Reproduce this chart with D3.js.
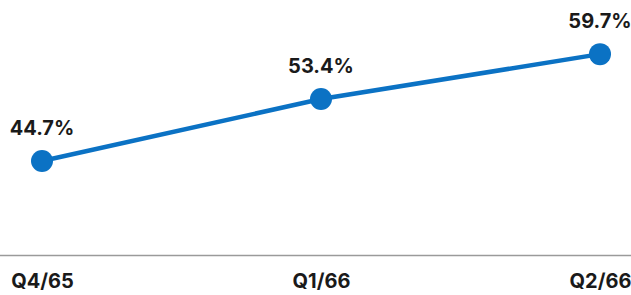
<!DOCTYPE html>
<html>
<head>
<meta charset="utf-8">
<script src="https://cdn.jsdelivr.net/npm/d3@7"></script>
<style>
  body { margin: 0; background: #fff; }
  text { font-family: Inter, "Open Sans", sans-serif; font-weight: 700; fill: #1a1a1a; }
</style>
</head>
<body>
<div class="container"></div>
<script>
var quarters = ["Q4/65", "Q1/66", "Q2/66"];
var ratios = [44.7, 53.4, 59.7];

var width = 631, height = 295;
var svg = d3.select(".container").append("svg")
  .attr("width", width)
  .attr("height", height);

var x = d3.scalePoint().domain(quarters).range([42, 600]);
var y = d3.scaleLinear().domain([31.5, 67.3]).range([255, 0]);

var data = quarters.map(function(q, i) { return {q: q, v: ratios[i]}; });

// baseline
svg.append("line")
  .attr("x1", 0).attr("x2", width)
  .attr("y1", 255.5).attr("y2", 255.5)
  .style("stroke", "#9a9a9a")
  .style("stroke-width", 1.5);

var xAxis = d3.axisBottom(x).tickSize(0).tickPadding(0);
var gx = svg.append("g").attr("transform", "translate(0,274)").call(xAxis);
gx.select(".domain").remove();
gx.selectAll("text")
  .style("font-size", "20px")
  .attr("dy", "0.71em");

svg.append("path")
  .datum(data)
  .attr("d", d3.line().x(function(d) { return x(d.q); }).y(function(d) { return y(d.v); }))
  .style("fill", "none")
  .style("stroke", "#0b72c4")
  .style("stroke-width", 4.5);

svg.selectAll("circle")
  .data(data)
  .enter().append("circle")
  .attr("cx", function(d) { return x(d.q); })
  .attr("cy", function(d) { return y(d.v); })
  .attr("r", 11)
  .style("fill", "#0b72c4");

svg.selectAll(".val")
  .data(data)
  .enter().append("text")
  .attr("class", "val")
  .attr("x", function(d) { return x(d.q); })
  .attr("y", function(d) { return y(d.v) - 26; })
  .attr("text-anchor", "middle")
  .style("font-size", "20px")
  .text(function(d) { return d.v.toFixed(1) + "%"; });
</script>
</body>
</html>
